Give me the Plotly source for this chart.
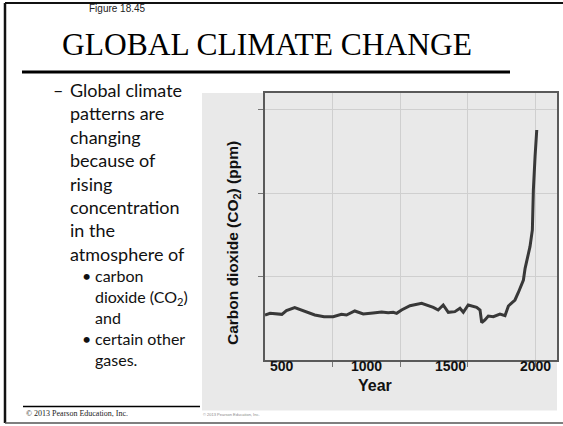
import plotly.graph_objects as go

# Atmospheric CO2 record (ice core + instrumental), ppm by year
years = [400, 430, 500, 527, 576, 636, 695, 750, 804, 853, 883, 932, 982, 1040,
         1091, 1130, 1160, 1180, 1209, 1259, 1288, 1328, 1397, 1426, 1456, 1486,
         1525, 1555, 1575, 1604, 1654, 1674, 1684, 1703, 1723, 1753, 1792, 1822,
         1842, 1881, 1901, 1931, 1941, 1970, 1984, 1990, 2000, 2010]
co2_ppm = [277, 278, 277.4, 279.6, 281.4, 279.4, 277, 276, 276, 277.4, 277, 279.4,
           277.6, 278.2, 278.8, 278.4, 278.6, 278, 280, 282.6, 283, 284, 281.6, 280,
           283, 278.6, 279, 281, 278.6, 283, 281.6, 280, 272.4, 274, 276.4, 276,
           277.6, 276.6, 282.4, 286, 290.5, 298, 305, 318, 328, 352, 372, 388]

# Axis ticks
year_labels = [500, 1000, 1500, 2000]
grid_years = [800, 1200, 1600, 2000]
ppm_grid = [300, 350, 400]

W, H = 563, 426


def px(x):
    return x / W


def py(y):
    return 1 - y / H


fig = go.Figure()
fig.add_trace(go.Scatter(
    x=years, y=co2_ppm, mode="lines",
    line=dict(color="#383838", width=3),
    hoverinfo="skip", showlegend=False,
))

shapes = [
    # grey figure panel
    dict(type="rect", xref="paper", yref="paper", x0=px(202), x1=px(557),
         y0=py(410.5), y1=py(93), fillcolor="#e9e9e9", line=dict(width=0),
         layer="below"),
    # slide frame
    dict(type="line", xref="paper", yref="paper", x0=px(5), x1=px(563),
         y0=py(3), y1=py(3), line=dict(color="#111", width=2)),
    dict(type="line", xref="paper", yref="paper", x0=px(5), x1=px(5),
         y0=py(3), y1=py(423), line=dict(color="#111", width=2.5)),
    dict(type="line", xref="paper", yref="paper", x0=px(5), x1=px(563),
         y0=py(423), y1=py(423), line=dict(color="#555", width=1.5)),
    # title underline
    dict(type="line", xref="paper", yref="paper", x0=px(22), x1=px(510),
         y0=py(72), y1=py(72), line=dict(color="#000", width=3)),
    # footer rule
    dict(type="line", xref="paper", yref="paper", x0=px(23), x1=px(200),
         y0=py(406.5), y1=py(406.5), line=dict(color="#000", width=1.5)),
]

serif = "Liberation Serif, Times New Roman, serif"
sans = "Liberation Sans, Arial, sans-serif"
body = "Lato, Carlito, Calibri, sans-serif"

annotations = [
    dict(text="Figure 18.45", x=px(87), y=py(9), xanchor="left", yanchor="middle",
         font=dict(family=sans, size=10, color="#222")),
    dict(text="GLOBAL CLIMATE CHANGE", x=px(266.5), y=py(45), xanchor="center",
         yanchor="middle", font=dict(family=serif, size=31.5, color="#000")),
    dict(text="–", x=px(51), y=py(90), xanchor="left", yanchor="middle",
         font=dict(family=body, size=18, color="#111")),
    dict(text="Global climate<br>patterns are<br>changing<br>because of<br>rising<br>"
              "concentration<br>in the<br>atmosphere of",
         x=px(68), y=py(171.7), xanchor="left", yanchor="middle", align="left",
         font=dict(family=body, size=18, color="#111")),
    dict(text="•", x=px(80), y=py(275), xanchor="left", yanchor="middle",
         font=dict(family=body, size=16, color="#111")),
    dict(text="carbon<br>dioxide (CO<sub>2</sub>)<br>and", x=px(93), y=py(296),
         xanchor="left", yanchor="middle", align="left",
         font=dict(family=body, size=16, color="#111")),
    dict(text="•", x=px(80), y=py(338), xanchor="left", yanchor="middle",
         font=dict(family=body, size=16, color="#111")),
    dict(text="certain other<br>gases.", x=px(93), y=py(348.5),
         xanchor="left", yanchor="middle", align="left",
         font=dict(family=body, size=16, color="#111")),
    dict(text="© 2013 Pearson Education, Inc.", x=px(24), y=py(413.5),
         xanchor="left", yanchor="middle",
         font=dict(family=serif, size=8, color="#222")),
    dict(text="© 2013 Pearson Education, Inc.", x=px(201), y=py(414),
         xanchor="left", yanchor="middle",
         font=dict(family=sans, size=4, color="#888")),
    # axis titles
    dict(text="<b>Carbon dioxide (CO<sub>2</sub>) (ppm)</b>", x=px(233), y=py(243),
         xanchor="center", yanchor="middle", textangle=-90,
         font=dict(family=sans, size=15.5, color="#111")),
    dict(text="<b>Year</b>", x=px(375), y=py(385), xanchor="center",
         yanchor="middle", font=dict(family=sans, size=16, color="#111")),
]

# year labels under the axis
for yr in year_labels:
    annotations.append(dict(
        text=f"<b>{yr}</b>", x=yr, xref="x", y=py(366), yref="paper",
        xanchor="center", yanchor="middle",
        font=dict(family=sans, size=14, color="#111"),
    ))

for a in annotations:
    a.setdefault("xref", "paper")
    a.setdefault("yref", "paper")
    a.setdefault("showarrow", False)

fig.update_layout(
    width=W, height=H, autosize=False,
    margin=dict(l=0, r=0, t=0, b=0),
    paper_bgcolor="white", plot_bgcolor="white",
    shapes=shapes, annotations=annotations,
    xaxis=dict(
        domain=[px(265), px(557)], range=[400, 2130],
        tickvals=grid_years, showticklabels=False,
        showgrid=True, gridcolor="#cfcfcf", gridwidth=1,
        ticks="outside", ticklen=5, tickcolor="#777",
        showline=True, mirror=True, linecolor="#5a5a5a", linewidth=1.5,
        zeroline=False, fixedrange=True,
    ),
    yaxis=dict(
        domain=[py(360), py(93.3)], range=[250, 410],
        tickvals=ppm_grid, showticklabels=False,
        showgrid=True, gridcolor="#cfcfcf", gridwidth=1,
        ticks="outside", ticklen=5, tickcolor="#777",
        showline=True, mirror=True, linecolor="#5a5a5a", linewidth=1.5,
        zeroline=False, fixedrange=True,
    ),
)

fig.write_html("out.html", config={"displayModeBar": False})
